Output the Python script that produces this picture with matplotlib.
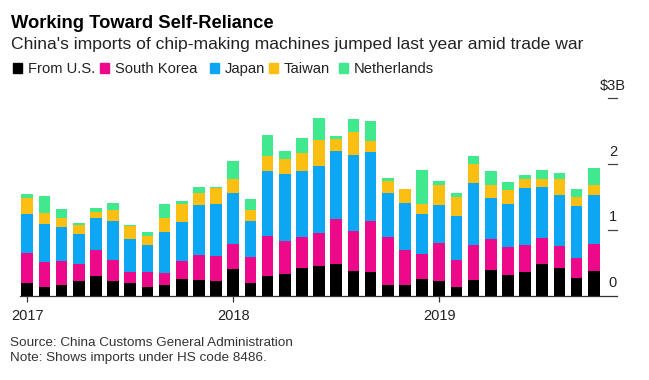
import numpy as np
import matplotlib.pyplot as plt

plt.rcParams['font.family'] = ['Liberation Sans', 'DejaVu Sans']

# monthly imports, $ billions, Jan 2017 - Oct 2019
months = ['2017-%02d' % m for m in range(1, 13)] + \
         ['2018-%02d' % m for m in range(1, 13)] + \
         ['2019-%02d' % m for m in range(1, 11)]

from_us = [0.20, 0.13, 0.16, 0.23, 0.31, 0.23, 0.19, 0.14, 0.17, 0.26, 0.24, 0.23,
           0.41, 0.20, 0.31, 0.34, 0.43, 0.45, 0.49, 0.38, 0.36, 0.17, 0.16, 0.26,
           0.23, 0.13, 0.24, 0.40, 0.32, 0.36, 0.48, 0.43, 0.28, 0.38]
south_korea = [0.46, 0.38, 0.37, 0.25, 0.39, 0.32, 0.18, 0.22, 0.18, 0.27, 0.38, 0.38,
               0.38, 0.39, 0.60, 0.49, 0.46, 0.50, 0.68, 0.61, 0.78, 0.72, 0.54, 0.38,
               0.57, 0.41, 0.54, 0.46, 0.42, 0.41, 0.40, 0.33, 0.30, 0.41]
japan = [0.58, 0.59, 0.52, 0.46, 0.48, 0.59, 0.50, 0.42, 0.62, 0.60, 0.76, 0.78,
         0.78, 0.55, 0.98, 1.02, 1.00, 1.02, 1.03, 1.15, 1.05, 0.68, 0.71, 0.60,
         0.58, 0.68, 0.94, 0.63, 0.65, 0.87, 0.77, 0.78, 0.78, 0.74]
taiwan = [0.25, 0.16, 0.14, 0.14, 0.10, 0.17, 0.19, 0.13, 0.21, 0.26, 0.18, 0.25,
          0.20, 0.16, 0.24, 0.23, 0.28, 0.39, 0.18, 0.35, 0.16, 0.17, 0.22, 0.16,
          0.31, 0.28, 0.29, 0.20, 0.22, 0.14, 0.13, 0.24, 0.14, 0.16]
netherlands = [0.06, 0.25, 0.13, 0.03, 0.05, 0.10, 0.02, 0.06, 0.21, 0.05, 0.10, 0.01,
               0.28, 0.17, 0.32, 0.12, 0.22, 0.34, 0.05, 0.19, 0.30, 0.05, 0.00, 0.51,
               0.06, 0.07, 0.12, 0.21, 0.12, 0.06, 0.13, 0.08, 0.13, 0.25]

series = [('From U.S.', from_us, '#000000'),
          ('South Korea', south_korea, '#EC0A8B'),
          ('Japan', japan, '#0CA6F2'),
          ('Taiwan', taiwan, '#FBBF14'),
          ('Netherlands', netherlands, '#40E98D')]

year_pos = [0, 12, 24]
year_labels = ['2017', '2018', '2019']
y_ticks = [0, 1, 2, 3]
y_labels = ['0', '1', '2', '$3B']

W, H = 649, 380
fig = plt.figure(figsize=(W / 100, H / 100), dpi=100)


def px(x, y):
    return x / W, 1 - y / H


ax = fig.add_axes([20 / W, 1 - 296 / H, (617 - 20) / W, (296 - 98.3) / H])

x = np.arange(len(months))
bottom = np.zeros(len(months))
for name, vals, col in series:
    vals = np.array(vals)
    ax.bar(x, vals, width=0.68, bottom=bottom, color=col, linewidth=0)
    bottom += vals

ax.set_xlim(-0.425, 34.35)
ax.set_ylim(0, 3)
for s in ['left', 'right', 'top']:
    ax.spines[s].set_visible(False)
ax.spines['bottom'].set_color('#333333')
ax.spines['bottom'].set_linewidth(0.9)
ax.set_yticks([])
ax.set_xticks(year_pos)
ax.set_xticklabels(year_labels, fontsize=10.5, color='#222222')
ax.tick_params(axis='x', length=4, width=0.9, color='#333333', pad=5.5)

# right-side value dashes and labels
for v, lab in zip(y_ticks, y_labels):
    if v > 0:
        ax.plot([0.985, 1.0], [v, v], transform=ax.get_yaxis_transform(),
                color='#444444', lw=0.9, clip_on=False)
    ax.annotate(lab, xy=(0.993, v), xycoords=ax.get_yaxis_transform(),
                xytext=(0, 6.2), textcoords='offset points',
                ha='center', va='baseline', fontsize=10.5, color='#222222')

# title block
fig.text(*px(11, 28.3), 'Working Toward Self-Reliance', fontsize=13.2,
         fontweight='bold', va='baseline', color='#000000')
fig.text(*px(11, 48.6), "China's imports of chip-making machines jumped last year amid trade war",
         fontsize=12.6, va='baseline', color='#222222')

# legend
sq_x = [13, 100, 210, 269, 339]
for (name, vals, col), sx in zip(series, sq_x):
    fig.patches.append(plt.Rectangle(px(sx, 72.7), 9 / W, 9.2 / H, color=col,
                                     transform=fig.transFigure, figure=fig))
    fig.text(*px(sx + 15, 72.7), name, fontsize=10.6, va='baseline', color='#222222')

# footer
fig.text(*px(10, 346.5), 'Source: China Customs General Administration',
         fontsize=9.7, va='baseline', color='#333333')
fig.text(*px(10, 360.5), 'Note: Shows imports under HS code 8486.',
         fontsize=9.7, va='baseline', color='#333333')

fig.savefig('out.png', dpi=100)
